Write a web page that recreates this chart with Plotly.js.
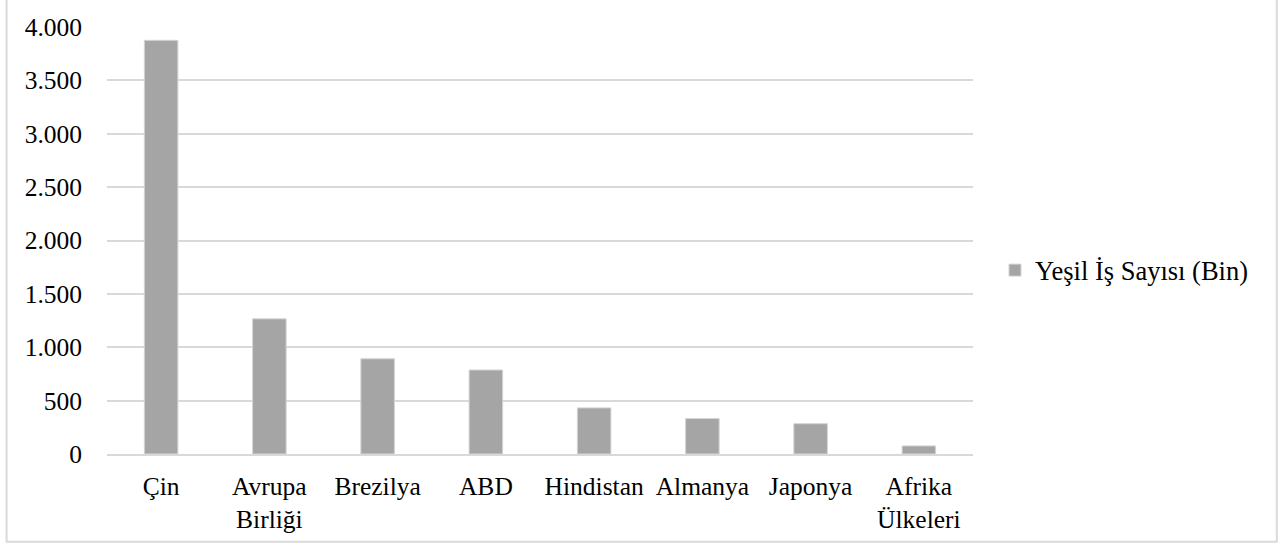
<!DOCTYPE html>
<html>
<head>
<meta charset="utf-8">
<script src="https://cdn.plot.ly/plotly-3.0.1.min.js"></script>
<style>
html,body{margin:0;padding:0;background:#fff;}
#chart{width:1281px;height:545px;}
</style>
</head>
<body>
<div id="chart"></div>
<script>
var categories = ["Çin", "Avrupa<br>Birliği", "Brezilya", "ABD", "Hindistan", "Almanya", "Japonya", "Afrika<br>Ülkeleri"];
var seriesName = "Yeşil İş Sayısı (Bin)";
var values = [3875, 1266, 892, 787, 432, 332, 284, 76];
var tickVals = [0, 500, 1000, 1500, 2000, 2500, 3000, 3500, 4000];
var tickText = ["0", "500", "1.000", "1.500", "2.000", "2.500", "3.000", "3.500", "4.000"];

var font = {family: "Liberation Serif, Times New Roman, serif", size: 25.5, color: "#000"};
var legendFont = {family: "Liberation Serif, Times New Roman, serif", size: 26.5, color: "#000"};

var trace = {
  type: "bar",
  x: categories,
  y: values,
  name: seriesName,
  marker: {color: "#a5a5a5", line: {color: "#d4d4d4", width: 1}},
  showlegend: true,
  hoverinfo: "x+y"
};

var layout = {
  width: 1281,
  height: 545,
  margin: {l: 107, r: 308, t: 27, b: 91, pad: 0},
  paper_bgcolor: "#fff",
  plot_bgcolor: "#fff",
  font: font,
  bargap: 0.69,
  showlegend: true,
  legend: {
    x: 1.0254, xanchor: "left",
    y: 0.43, yanchor: "middle",
    font: legendFont,
    itemwidth: 30,
    bgcolor: "rgba(0,0,0,0)"
  },
  xaxis: {
    type: "category",
    showgrid: false,
    showline: true,
    linecolor: "#d9d9d9",
    linewidth: 2,
    ticks: "",
    tickfont: font,
    ticklabelstandoff: 8,
    fixedrange: true
  },
  yaxis: {
    range: [0, 4000],
    tickvals: tickVals,
    ticktext: tickText,
    showgrid: true,
    gridcolor: "#d9d9d9",
    gridwidth: 2,
    zeroline: false,
    showline: false,
    ticks: "",
    tickfont: font,
    ticklabelstandoff: 24,
    fixedrange: true
  },
  shapes: [{
    type: "rect", xref: "paper", yref: "paper",
    x0: -0.116, x1: 1.3508, y0: -0.2056, y1: 1.066,
    line: {color: "#d9d9d9", width: 2},
    fillcolor: "rgba(0,0,0,0)",
    layer: "below"
  }]
};

Plotly.newPlot("chart", [trace], layout, {displayModeBar: false, staticPlot: true});
</script>
</body>
</html>
